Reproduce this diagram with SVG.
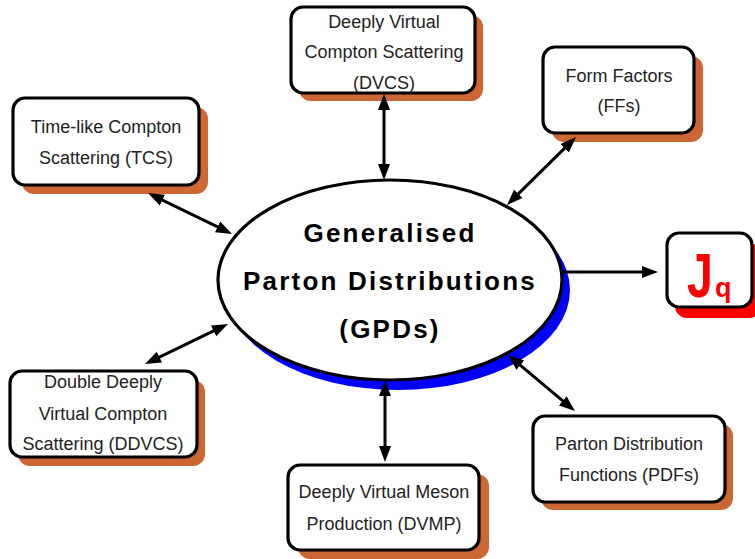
<svg xmlns="http://www.w3.org/2000/svg" width="755" height="559" viewBox="0 0 755 559">
<style>
.sh{fill:#cc6633}
.box{fill:#fff;stroke:#000;stroke-width:3.2}
.t{font-family:"Liberation Sans",Arial,sans-serif;font-size:18px;fill:#222;text-anchor:middle}
.g{font-family:"Liberation Sans",Arial,sans-serif;font-size:26px;font-weight:bold;fill:#000;text-anchor:middle;letter-spacing:2.2px}
.c{stroke:#000;stroke-width:3;fill:none;marker-end:url(#ah)}
.d{marker-start:url(#ah)}
</style>
<defs>
<marker id="ah" markerUnits="userSpaceOnUse" markerWidth="18" markerHeight="14" refX="4" refY="6" orient="auto-start-reverse" viewBox="0 0 18 12">
<path d="M0,0 L16,6 L0,12 z" fill="#000"/>
</marker>
</defs>
<rect width="755" height="559" fill="#fff"/>
<g id="gpds">
<ellipse cx="398" cy="290" rx="172" ry="100" fill="#0000ff"/>
<ellipse cx="390" cy="280" rx="172" ry="100" fill="#fff" stroke="#000" stroke-width="3.2"/>
<text class="g" x="390" y="242">Generalised</text>
<text class="g" x="390" y="290">Parton Distributions</text>
<text class="g" x="390" y="338">(GPDs)</text>
</g>
<g id="dvcs">
<rect class="sh" x="299" y="15" width="184" height="86" rx="12"/>
<rect class="box" x="291" y="7" width="184" height="86" rx="12"/>
<text class="t" x="384" y="28">Deeply Virtual</text>
<text class="t" x="384" y="58">Compton Scattering</text>
<text class="t" x="384" y="89">(DVCS)</text>
</g>
<g id="tcs">
<rect class="sh" x="22" y="107" width="186" height="87" rx="12"/>
<rect class="box" x="13" y="98" width="186" height="87" rx="12"/>
<text class="t" x="106" y="133">Time-like Compton</text>
<text class="t" x="106" y="164">Scattering (TCS)</text>
</g>
<g id="ff">
<rect class="sh" x="552" y="56" width="151" height="86" rx="12"/>
<rect class="box" x="543" y="47" width="151" height="86" rx="12"/>
<text class="t" x="619" y="82">Form Factors</text>
<text class="t" x="619" y="112">(FFs)</text>
</g>
<g id="jq">
<rect x="675" y="243" width="86" height="75" rx="12" fill="#ff0000"/>
<rect class="box" x="667" y="233" width="85" height="74" rx="12"/>
<text x="916" y="297" transform="scale(0.75,1)" font-family="Liberation Sans,Arial,sans-serif" font-size="62" font-weight="bold" fill="#ff0000">J</text>
<text x="715" y="297" font-family="Liberation Sans,Arial,sans-serif" font-size="27" font-weight="bold" fill="#ff0000">q</text>
</g>
<g id="pdfs">
<rect class="sh" x="541" y="424" width="192" height="86" rx="12"/>
<rect class="box" x="533" y="416" width="192" height="86" rx="12"/>
<text class="t" x="629" y="450">Parton Distribution</text>
<text class="t" x="629" y="481">Functions (PDFs)</text>
</g>
<g id="dvmp">
<rect class="sh" x="298" y="474" width="191" height="85" rx="12"/>
<rect class="box" x="288" y="465" width="191" height="85" rx="12"/>
<text class="t" x="384" y="498">Deeply Virtual Meson</text>
<text class="t" x="384" y="530">Production (DVMP)</text>
</g>
<g id="ddvcs">
<rect class="sh" x="18" y="380" width="187" height="86" rx="12"/>
<rect class="box" x="10" y="371" width="187" height="86" rx="12"/>
<text class="t" x="103" y="388">Double Deeply</text>
<text class="t" x="103" y="420">Virtual Compton</text>
<text class="t" x="103" y="450">Scattering (DDVCS)</text>
</g>
<g id="connectors">
<line class="c d" x1="384" y1="106" x2="384" y2="168"/>
<line class="c d" x1="158.8" y1="198.3" x2="221.2" y2="228.7"/>
<line class="c d" x1="567.5" y1="145.4" x2="515.5" y2="196.6"/>
<line class="c" x1="562" y1="272" x2="646" y2="272"/>
<line class="c d" x1="517.2" y1="362.7" x2="565.8" y2="403.3"/>
<line class="c d" x1="385" y1="392" x2="385" y2="450"/>
<line class="c d" x1="155.8" y1="358.8" x2="217.2" y2="329.2"/>
</g>
</svg>
